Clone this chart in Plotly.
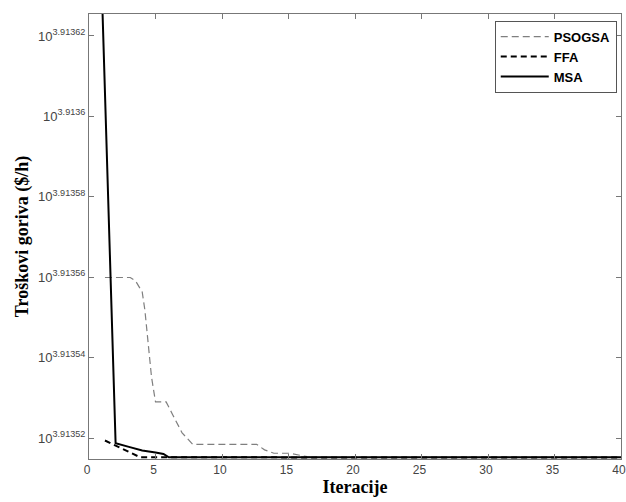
import plotly.graph_objects as go

# Data (fuel cost in $/h vs iteration)
psogsa_x = [1.2, 3.1, 3.5, 4.0, 4.2, 4.5, 4.7, 5.0, 5.8, 6.3, 7.0, 7.8, 12.6, 13.2, 13.9, 15.1, 15.7, 16.4, 17, 20, 25, 30, 35, 40]
psogsa_y = [8195.207, 8195.207, 8195.191, 8195.139, 8195.055, 8194.881, 8194.740, 8194.623, 8194.623, 8194.562,
            8194.478, 8194.424, 8194.424, 8194.398, 8194.382, 8194.382, 8194.374, 8194.366, 8194.363, 8194.363,
            8194.363, 8194.363, 8194.363, 8194.363]

ffa_x = [1.2, 2.0, 3.0, 3.85, 5, 10, 20, 30, 40]
ffa_y = [8194.442, 8194.419, 8194.391, 8194.363, 8194.363, 8194.363, 8194.363, 8194.363, 8194.362]

msa_x = [1, 2, 3, 4, 5, 5.6, 6, 10, 20, 30, 40]
msa_y = [8196.487, 8194.429, 8194.412, 8194.395, 8194.386, 8194.379, 8194.363, 8194.363, 8194.363, 8194.363, 8194.363]

ytick_exps = ["3.91352", "3.91354", "3.91356", "3.91358", "3.9136", "3.91362"]
xtick_vals = [0, 5, 10, 15, 20, 25, 30, 35, 40]

y_range = [3.91351478, 3.91362547]

fig = go.Figure()
fig.add_trace(go.Scatter(x=psogsa_x, y=psogsa_y, mode="lines", name="PSOGSA",
                         line=dict(color="#7f7f7f", width=1.2, dash="7px,4px")))
fig.add_trace(go.Scatter(x=ffa_x, y=ffa_y, mode="lines", name="FFA",
                         line=dict(color="black", width=2, dash="6px,4px")))
fig.add_trace(go.Scatter(x=msa_x, y=msa_y, mode="lines", name="MSA",
                         line=dict(color="black", width=2)))

xtick_font = dict(family="Liberation Sans, Arial, sans-serif", size=12, color="#444")
ytick_font = dict(family="Liberation Sans, Arial, sans-serif", size=13, color="#444")
title_font = dict(family="Liberation Serif, Times New Roman, serif", size=18, color="black")

fig.update_layout(
    width=626, height=502,
    margin=dict(l=89, r=5, t=14, b=43),
    paper_bgcolor="white", plot_bgcolor="white",
    showlegend=True,
    legend=dict(x=0.992, y=0.985, xanchor="right", yanchor="top",
                bgcolor="white", bordercolor="#555", borderwidth=1,
                font=dict(family="Liberation Sans, Arial, sans-serif", size=13, color="black", weight="bold"),
                tracegroupgap=0, itemwidth=48),
    xaxis=dict(range=[0, 40], tickvals=xtick_vals, ticks="inside", ticklen=5,
               tickcolor="#777", showline=True, linecolor="#777", linewidth=1,
               mirror="ticks", showgrid=False, zeroline=False, tickfont=xtick_font,
               automargin=False, ticklabeloverflow="allow", ticklabelshift=-2,
               title=dict(text="<b>Iteracije</b>", font=title_font, standoff=0)),
    yaxis=dict(type="log", range=y_range,
               tickvals=[10 ** float(e) for e in ytick_exps],
               ticktext=["10<sup>" + e + "</sup>" for e in ytick_exps],
               ticks="inside", ticklen=5, tickcolor="#777", showline=True,
               linecolor="#777", linewidth=1, mirror="ticks", showgrid=False,
               zeroline=False, tickfont=ytick_font, automargin=False,
               title=dict(text="<b>Troškovi goriva ($/h)</b>", font=title_font, standoff=4)),
)

fig.write_html("out.html", config={"displayModeBar": False},
               post_script="document.body.style.margin='0';document.body.style.overflow='hidden';")
